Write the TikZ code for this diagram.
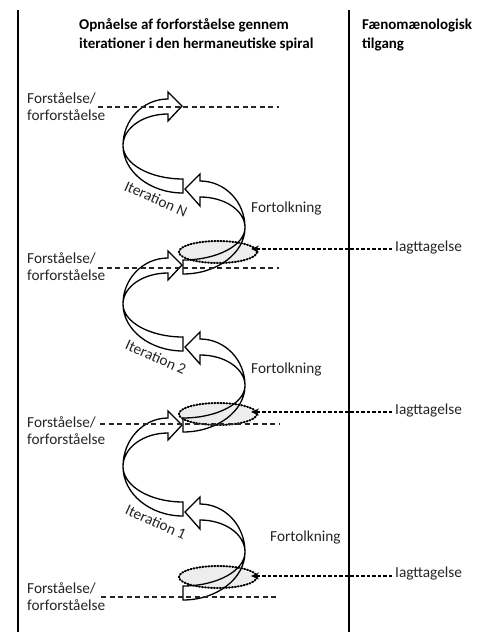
\documentclass[tikz,border=0pt]{standalone}
\usepackage{fontspec}
\setmainfont{Carlito}
\usetikzlibrary{shapes.geometric,arrows.meta}
% one helix turn: #1 = tip of right-pointing head, #2 = top of flat end / left head, #3 = top of lower flat end
\newcommand\helixturn[3]{%
 \pgfmathsetmacro\Ly{(#1+#2)/2+3}%
 \pgfmathsetmacro\Ry{(#2+#3)/2+8}%
 \draw[rib] (168,#1-7) -- (168,#1-14) -- (182,#1) -- (168,#1+15) -- (168,#1+8)
   .. controls (143,#1+8) and (123,{\Ly-0.55*(\Ly-#1-8)}) .. (123,\Ly)
   .. controls (123,{\Ly+0.55*(#2-\Ly)}) and (150,#2) .. (183,#2)
   -- (183,#2+14)
   .. controls (150,#2+14) and (123,{\Ly+0.55*(#2+14-\Ly)}) .. (123,\Ly)
   .. controls (123,{\Ly-0.55*(\Ly-#1+7)}) and (143,#1-7) .. (168,#1-7) -- cycle;
 \draw[rib] (200,#2+2) -- (200,#2-5) -- (185,#2+10) -- (200,#2+27) -- (200,#2+18)
   .. controls (225,#2+18) and (245,{\Ry-0.55*(\Ry-#2-18)}) .. (245,\Ry)
   .. controls (245,{\Ry+0.55*(#3-\Ry)}) and (217,#3) .. (183,#3)
   -- (183,#3+14)
   .. controls (217,#3+14) and (245,{\Ry+0.55*(#3+14-\Ry)}) .. (245,\Ry)
   .. controls (245,{\Ry-0.55*(\Ry-#2-2)}) and (225,#2+2) .. (200,#2+2) -- cycle;
}
\begin{document}
\begin{tikzpicture}[x=1pt,y=-1pt,
  txt/.style={font=\fontsize{15.3}{17}\selectfont, inner sep=0pt, text=black!85},
  ttl/.style={font=\fontsize{15}{19}\selectfont\bfseries, inner sep=0pt, text=black},
  rib/.style={draw=black, line width=1.3pt, line join=miter},
  level/.style={draw=black!85, line width=1.3pt, dash pattern=on 5pt off 3.5pt},
  obsarr/.style={draw=black, line width=1.2pt, dash pattern=on 3.5pt off 2pt, -{Stealth[length=8pt,width=7pt]}},
  obs/.style={ellipse, draw=black, fill=black!7, line width=2pt, dash pattern=on 1pt off 2pt, line cap=round, minimum width=78pt, minimum height=22pt, inner sep=0pt},
  divider/.style={draw=black, line width=1.3pt},
]
\fill[white] (0,0) rectangle (494,632);
\useasboundingbox (0,0) rectangle (494,632);

% column dividers
\draw[divider] (18,10) -- (18,632);
\draw[divider] (349,10) -- (349,632);

% titles
\node[ttl, anchor=base west] (t1) at (79,29) {Opnåelse af forforståelse gennem};
\node[ttl, anchor=base west] (t2) at (79,48) {iterationer i den hermaneutiske spiral};
\node[ttl, anchor=base west] (t3) at (362,29) {Fænomænologisk};
\node[ttl, anchor=base west] (t4) at (362,48) {tilgang};

% observation ellipses
\node[obs] (eN) at (218,252) {};
\node[obs] (e2) at (218,414) {};
\node[obs] (e1) at (218,577) {};

% spiral
\helixturn{106}{179}{260}
\helixturn{265}{337}{418}
\helixturn{425}{502}{586}

% understanding levels
\node[txt, anchor=base west] (fa1) at (27,103) {Forståelse/};
\node[txt, anchor=base west] (fb1) at (27,120) {forforståelse};
\node[txt, anchor=base west] (fa2) at (27,263) {Forståelse/};
\node[txt, anchor=base west] (fb2) at (27,280) {forforståelse};
\node[txt, anchor=base west] (fa3) at (27,427) {Forståelse/};
\node[txt, anchor=base west] (fb3) at (27,444) {forforståelse};
\node[txt, anchor=base west] (fa4) at (27,593) {Forståelse/};
\node[txt, anchor=base west] (fb4) at (27,610) {forforståelse};
\coordinate (d1) at (279,107);
\coordinate (d2) at (279,268);
\coordinate (d3) at (279,424);
\coordinate (d4) at (279,597);
\draw[level] ([xshift=2pt]d1 -| fa1.east) -- (d1);
\draw[level] ([xshift=2pt]d2 -| fa2.east) -- (d2);
\draw[level] ([xshift=4pt]d3 -| fa3.east) -- (d3);
\draw[level] ([xshift=5pt]d4 -| fa4.east) -- (d4);

% iteration labels
\node[txt, rotate=-24] (iN) at (156,199) {Iteration N};
\node[txt, rotate=-24] (i2) at (156,357) {Iteration 2};
\node[txt, rotate=-24] (i1) at (156,522) {Iteration 1};

% interpretation labels
\node[txt, anchor=base west] (fN) at (251,212) {Fortolkning};
\node[txt, anchor=base west] (f2) at (251,373) {Fortolkning};
\node[txt, anchor=base west] (f1) at (270,541) {Fortolkning};

% observation labels and arrows
\node[txt, anchor=base west] (oN) at (395,251) {Iagttagelse};
\node[txt, anchor=base west] (o2) at (395,414) {Iagttagelse};
\node[txt, anchor=base west] (o1) at (395,577) {Iagttagelse};
\coordinate (aN) at (392,249);
\coordinate (a2) at (392,412);
\coordinate (a1) at (392,576);
\draw[obsarr] (aN) -- ([xshift=-7pt]aN -| eN.east);
\draw[obsarr] (a2) -- ([xshift=-7pt]a2 -| e2.east);
\draw[obsarr] (a1) -- ([xshift=-7pt]a1 -| e1.east);
\end{tikzpicture}
\end{document}
